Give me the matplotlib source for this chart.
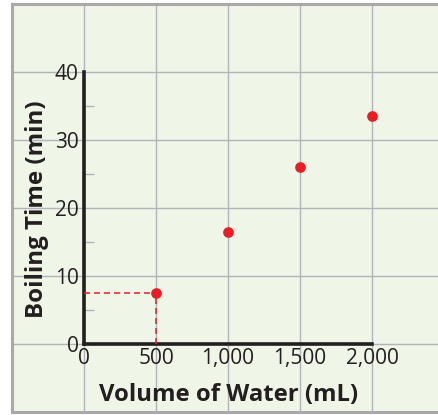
import matplotlib
matplotlib.use("Agg")
import matplotlib.pyplot as plt
from matplotlib.ticker import FixedLocator

plt.rcParams['font.family'] = ['Open Sans', 'DejaVu Sans']
plt.rcParams['lines.scale_dashes'] = False

# ---- data ----
water_ml = [500, 1000, 1500, 2000]
boil_min = [7.5, 16.5, 26, 33.5]
x_ticks = [0, 500, 1000, 1500, 2000]
x_tick_labels = ['0', '500', '1,000', '1,500', '2,000']
y_ticks = [0, 10, 20, 30, 40]
y_tick_labels = ['0', '10', '20', '30', '40']
y_minor = [5, 15, 25, 35]
x_grid = [-500, 0, 500, 1000, 1500, 2000, 2500]
y_grid = [-10, 0, 10, 20, 30, 40, 50]

BG = '#eff5e7'
GRID = '#b3b3bb'
BORDER = '#a9a9ab'
INK = '#231f20'
RED = '#ec1c24'

W, H = 439, 415
fig = plt.figure(figsize=(W / 100, H / 100), dpi=100, facecolor='white')
left_px, top_px, bottom_px = 12, 4, 412
pos = [left_px / W, (H - bottom_px) / H, (W - left_px) / W, (bottom_px - top_px) / H]
xlim = (-500, -500 + (W - left_px) / 72 * 500)
ylim = (-10, 50)

# background axes: fill, grid, border
bg = fig.add_axes(pos)
bg.set_facecolor(BG)
bg.set_xlim(*xlim)
bg.set_ylim(*ylim)
bg.xaxis.set_major_locator(FixedLocator(x_grid))
bg.yaxis.set_major_locator(FixedLocator(y_grid))
bg.minorticks_off()
bg.tick_params(which='both', length=0, labelbottom=False, labelleft=False)
bg.grid(True, color=GRID, linewidth=1.0)
for s in ['left', 'top', 'bottom']:
    bg.spines[s].set_color(BORDER)
    bg.spines[s].set_linewidth(2.2)
bg.spines['right'].set_visible(False)

# foreground axes
ax = fig.add_axes(pos)
ax.patch.set_visible(False)
ax.set_xlim(*xlim)
ax.set_ylim(*ylim)
ax.spines['left'].set_position(('data', 0))
ax.spines['bottom'].set_position(('data', 0))
ax.spines['left'].set_bounds(0, 40)
ax.spines['bottom'].set_bounds(0, 2000)
for s in ['left', 'bottom']:
    ax.spines[s].set_color(INK)
    ax.spines[s].set_linewidth(2.6)
    ax.spines[s].set_capstyle('projecting')
ax.spines['top'].set_visible(False)
ax.spines['right'].set_visible(False)
ax.xaxis.set_major_locator(FixedLocator(x_ticks))
ax.yaxis.set_major_locator(FixedLocator(y_ticks))
ax.set_xticklabels(x_tick_labels)
ax.set_yticklabels(y_tick_labels)
ax.yaxis.set_minor_locator(FixedLocator(y_minor))
ax.tick_params(which='major', length=0, labelsize=15, labelcolor=INK)
ax.tick_params(axis='x', which='major', pad=3)
ax.tick_params(axis='y', which='major', pad=4)
ax.tick_params(axis='y', which='minor', direction='in', length=7, width=1.0, color=GRID)

# dashed guide to first point
ax.plot([0, water_ml[0]], [boil_min[0], boil_min[0]], color=RED, lw=1.1,
        linestyle=(0, (4.3, 2.9)), zorder=3)
ax.plot([water_ml[0], water_ml[0]], [0, boil_min[0]], color=RED, lw=1.1,
        linestyle=(0, (4.3, 2.9)), zorder=3)

ax.plot(water_ml, boil_min, 'o', color=RED, markersize=7.7, markeredgewidth=0, zorder=4)

ax.set_xlabel('Volume of Water (mL)', fontsize=17.2, fontweight='bold', color=INK)
ax.set_ylabel('Boiling Time (min)', fontsize=17.4, fontweight='bold', color=INK)
ax.xaxis.set_label_coords((229 - left_px) / (W - left_px), (bottom_px - 401) / (bottom_px - top_px))
ax.xaxis.label.set_va('baseline')
ax.yaxis.set_label_coords((43 - left_px) / (W - left_px), (bottom_px - 209) / (bottom_px - top_px))
ax.yaxis.label.set_va('baseline')

fig.savefig('out.png', dpi=100, facecolor='white')
